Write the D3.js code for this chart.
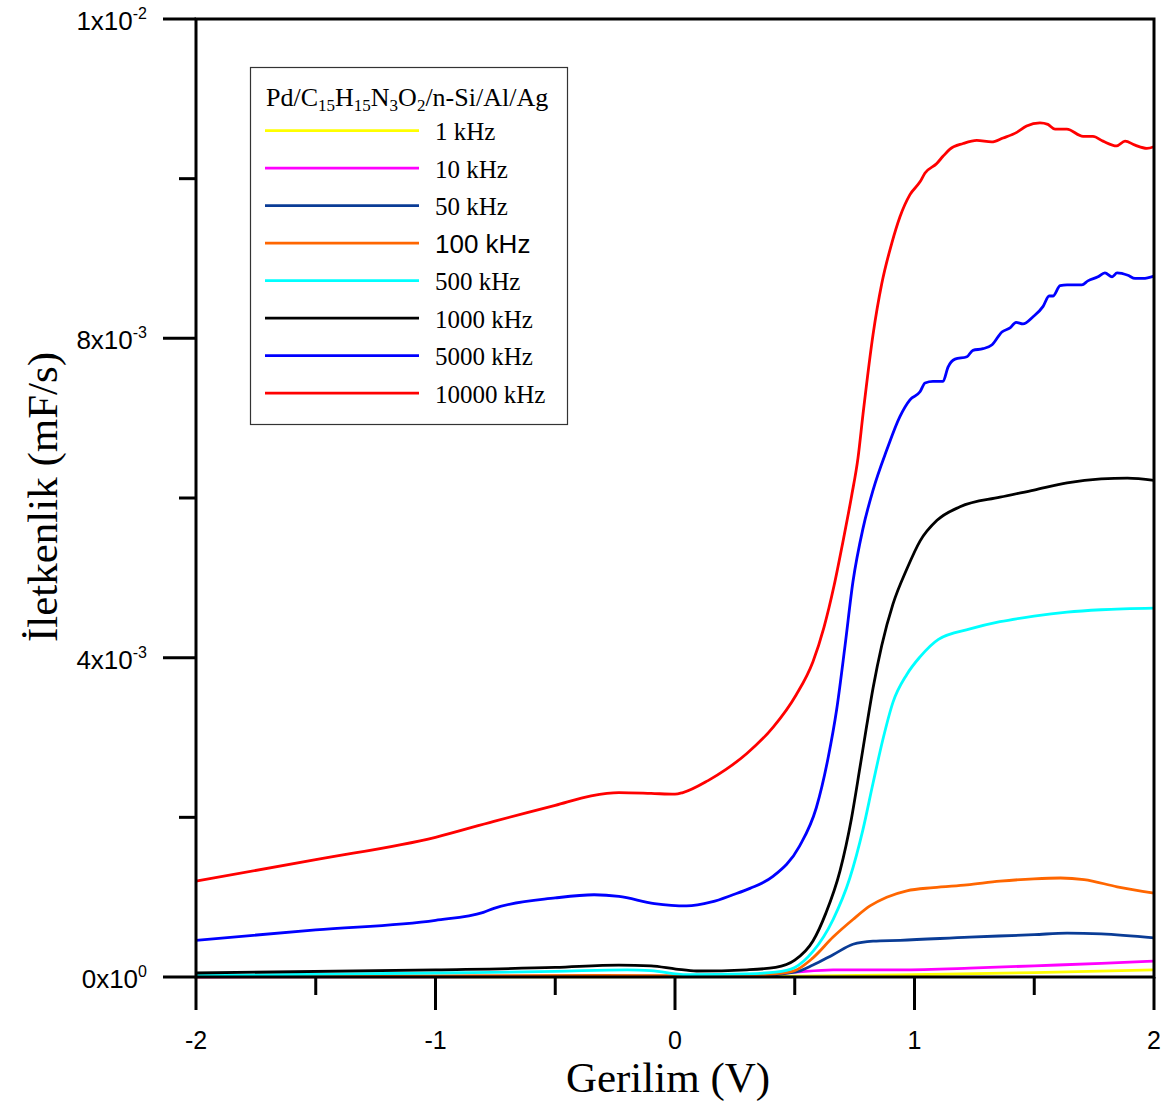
<!DOCTYPE html>
<html lang="tr">
<head>
<meta charset="UTF-8">
<title>Gerilim - İletkenlik</title>
<script src="https://cdn.jsdelivr.net/npm/d3@7"></script>
<style>
  body { margin: 0; background: #fff; }
</style>
</head>
<body>
<div id="chart"></div>
<script>
// values: [voltage (V), conductance in 1e-3 mF/s]
const f1k = [[-2, 0], [0.3, 0.005], [0.5, 0.01], [0.94, 0.025], [1.5, 0.055], [2, 0.09]];
const f10k = [[-2, 0], [0.3, 0.01], [0.5, 0.06], [0.66, 0.09], [0.94, 0.09], [1.23, 0.11], [1.5, 0.14], [1.78, 0.17], [2, 0.20]];
const f50k = [[-2, 0.005], [0.3, 0.01], [0.5, 0.06], [0.576, 0.15], [0.66, 0.28], [0.743, 0.41], [0.827, 0.45],
  [0.94, 0.46], [1.23, 0.50], [1.5, 0.53], [1.637, 0.55], [1.78, 0.54], [2, 0.49]];
const f100k = [[-2, 0.01], [-1, 0.015], [-0.3, 0.02], [0, 0.015], [0.2, 0.01], [0.42, 0.04], [0.5, 0.08], [0.576, 0.24],
  [0.66, 0.50], [0.743, 0.72], [0.814, 0.89], [0.884, 1.00], [0.968, 1.08], [1.079, 1.12], [1.219, 1.155],
  [1.357, 1.20], [1.499, 1.23], [1.61, 1.24], [1.708, 1.22], [1.846, 1.13], [2, 1.05]];
const f500k = [[-2, 0.02], [-1, 0.05], [-0.5, 0.07], [-0.2, 0.09], [-0.1, 0.08], [0.05, 0.03], [0.3, 0.04], [0.42, 0.06],
  [0.5, 0.12], [0.576, 0.32], [0.66, 0.72], [0.73, 1.24], [0.785, 1.85], [0.827, 2.43], [0.87, 3.0], [0.91, 3.44],
  [0.968, 3.79], [1.023, 4.01], [1.10, 4.23], [1.232, 4.36], [1.357, 4.45], [1.499, 4.52], [1.637, 4.57],
  [1.779, 4.60], [2, 4.62]];
const f1000k = [[-2, 0.05], [-1, 0.09], [-0.5, 0.12], [-0.234, 0.15], [-0.1, 0.14], [0.004, 0.10], [0.09, 0.075],
  [0.3, 0.09], [0.42, 0.12], [0.5, 0.21], [0.576, 0.45], [0.63, 0.80], [0.689, 1.33], [0.737, 1.99], [0.772, 2.62],
  [0.80, 3.14], [0.827, 3.62], [0.863, 4.15], [0.91, 4.67], [0.968, 5.11], [1.023, 5.46], [1.094, 5.72],
  [1.19, 5.89], [1.357, 6.01], [1.499, 6.10], [1.637, 6.19], [1.779, 6.24], [1.889, 6.25], [2, 6.22]];
const f5000k = [[-2, 0.46], [-1.5, 0.59], [-1, 0.71], [-0.80, 0.81], [-0.756, 0.86], [-0.5, 0.99], [-0.338, 1.03],
  [-0.234, 1.01], [-0.086, 0.92], [0.048, 0.89], [0.153, 0.94], [0.242, 1.03], [0.313, 1.11], [0.409, 1.26],
  [0.52, 1.64], [0.59, 2.12], [0.639, 2.74], [0.675, 3.35], [0.71, 4.15], [0.743, 4.95], [0.785, 5.62],
  [0.827, 6.10], [0.884, 6.60], [0.939, 7.02], [0.981, 7.23], [1.023, 7.33], [1.044, 7.44], [1.077, 7.46],
  [1.119, 7.46], [1.14, 7.64], [1.169, 7.74], [1.219, 7.77], [1.244, 7.85], [1.286, 7.87], [1.324, 7.92],
  [1.365, 8.08], [1.399, 8.13], [1.424, 8.20], [1.453, 8.18], [1.495, 8.27], [1.537, 8.40], [1.562, 8.53],
  [1.578, 8.53], [1.608, 8.66], [1.637, 8.67], [1.699, 8.67], [1.724, 8.72], [1.766, 8.77], [1.795, 8.82],
  [1.825, 8.77], [1.846, 8.82], [1.891, 8.79], [1.921, 8.75], [1.954, 8.75], [2, 8.78]];
const f10000k = [[-2, 1.20], [-1.5, 1.47], [-1, 1.75], [-0.756, 1.95], [-0.5, 2.15], [-0.35, 2.27], [-0.234, 2.31],
  [-0.1, 2.30], [0, 2.29], [0.033, 2.31], [0.138, 2.46], [0.213, 2.60], [0.30, 2.80], [0.41, 3.13], [0.505, 3.53],
  [0.576, 3.95], [0.622, 4.38], [0.664, 4.90], [0.701, 5.45], [0.737, 6.02], [0.764, 6.50], [0.785, 7.05],
  [0.827, 8.05], [0.863, 8.68], [0.905, 9.19], [0.939, 9.52], [0.981, 9.80], [1.023, 9.96], [1.044, 10.07],
  [1.093, 10.19], [1.119, 10.28], [1.148, 10.37], [1.203, 10.44], [1.26, 10.48], [1.322, 10.46], [1.37, 10.51],
  [1.427, 10.58], [1.468, 10.66], [1.524, 10.70], [1.557, 10.68], [1.587, 10.62], [1.636, 10.62], [1.704, 10.53],
  [1.745, 10.53], [1.787, 10.47], [1.844, 10.41], [1.879, 10.47], [1.921, 10.42], [1.97, 10.38], [2, 10.40]];

const seriesNames = ["1 kHz", "10 kHz", "50 kHz", "100 kHz", "500 kHz", "1000 kHz", "5000 kHz", "10000 kHz"];
const seriesData = [f1k, f10k, f50k, f100k, f500k, f1000k, f5000k, f10000k];
const seriesColors = ["#ffff00", "#ff00ff", "#0a3c96", "#ff6600", "#00ffff", "#000000", "#0000ff", "#ff0000"];

const xMajor = [-2, -1, 0, 1, 2];
const xMinor = [-1.5, -0.5, 0.5, 1.5];
const yMajor = [0, 4, 8, 12];
const yMinor = [2, 6, 10];
const yTickBase = ["0x10", "4x10", "8x10", "1x10"];
const yTickExp = ["0", "-3", "-3", "-2"];

const width = 1171, height = 1108;
const plotLeft = 196, plotRight = 1154, plotTop = 19, plotBottom = 977;
const serif = "'Liberation Serif', 'Times New Roman', serif";
const sans = "'Liberation Sans', Arial, sans-serif";

const x = d3.scaleLinear().domain([-2, 2]).range([plotLeft, plotRight]);
const y = d3.scaleLinear().domain([0, 12]).range([plotBottom, plotTop]);

const svg = d3.select("#chart").append("svg")
  .attr("width", width)
  .attr("height", height);

// curves
const line = d3.line()
  .x(d => x(d[0]))
  .y(d => y(d[1]))
  .curve(d3.curveMonotoneX);

svg.append("g")
  .attr("fill", "none")
  .attr("stroke-width", 2.8)
  .attr("stroke-linejoin", "round")
  .selectAll("path")
  .data(seriesData)
  .join("path")
  .attr("stroke", (d, i) => seriesColors[i])
  .attr("d", line);

// frame
svg.append("rect")
  .attr("x", plotLeft).attr("y", plotTop)
  .attr("width", plotRight - plotLeft).attr("height", plotBottom - plotTop)
  .attr("fill", "none")
  .attr("stroke", "#000")
  .attr("stroke-width", 3);

// x axis ticks
const xAxis = svg.append("g").attr("stroke", "#000").attr("stroke-width", 3);
xAxis.selectAll(".maj").data(xMajor).join("line").attr("class", "maj")
  .attr("x1", d => x(d)).attr("x2", d => x(d))
  .attr("y1", plotBottom).attr("y2", plotBottom + 33);
xAxis.selectAll(".min").data(xMinor).join("line").attr("class", "min")
  .attr("x1", d => x(d)).attr("x2", d => x(d))
  .attr("y1", plotBottom).attr("y2", plotBottom + 18);

svg.append("g").selectAll("text").data(xMajor).join("text")
  .attr("x", d => x(d))
  .attr("y", 1049)
  .attr("text-anchor", "middle")
  .attr("font-family", sans)
  .attr("font-size", 25)
  .text(d => d);

// y axis ticks
const yAxis = svg.append("g").attr("stroke", "#000").attr("stroke-width", 3);
yAxis.selectAll(".maj").data(yMajor).join("line").attr("class", "maj")
  .attr("y1", d => y(d)).attr("y2", d => y(d))
  .attr("x1", plotLeft).attr("x2", plotLeft - 33);
yAxis.selectAll(".min").data(yMinor).join("line").attr("class", "min")
  .attr("y1", d => y(d)).attr("y2", d => y(d))
  .attr("x1", plotLeft).attr("x2", plotLeft - 17);

const yLabels = svg.append("g").selectAll("text").data(yMajor).join("text")
  .attr("x", 147)
  .attr("y", d => y(d) + 11)
  .attr("text-anchor", "end")
  .attr("font-family", sans)
  .attr("font-size", 26);
yLabels.append("tspan").text((d, i) => yTickBase[i]);
yLabels.append("tspan")
  .attr("dy", -11)
  .attr("font-size", 16)
  .text((d, i) => yTickExp[i]);

// axis titles
svg.append("text")
  .attr("x", (plotLeft + plotRight) / 2 - 7)
  .attr("y", 1092)
  .attr("text-anchor", "middle")
  .attr("font-family", serif)
  .attr("font-size", 43)
  .text("Gerilim (V)");

svg.append("text")
  .attr("transform", "translate(57,497) rotate(-90)")
  .attr("text-anchor", "middle")
  .attr("font-family", serif)
  .attr("font-size", 43)
  .text("İletkenlik (mF/s)");

// legend
const legend = svg.append("g");
legend.append("rect")
  .attr("x", 250.5).attr("y", 67.5)
  .attr("width", 317).attr("height", 357)
  .attr("fill", "#fff")
  .attr("stroke", "#333")
  .attr("stroke-width", 1.2);

const title = legend.append("text")
  .attr("x", 266).attr("y", 106)
  .attr("font-family", serif)
  .attr("font-size", 26);
[["Pd/C", 0], ["15", 1], ["H", 0], ["15", 1], ["N", 0], ["3", 1], ["O", 0], ["2", 1], ["/n-Si/Al/Ag", 0]]
  .forEach(([t, sub], i, arr) => {
    const prevSub = i > 0 ? arr[i - 1][1] : 0;
    title.append("tspan")
      .attr("dy", sub ? 5 : (prevSub ? -5 : 0))
      .attr("font-size", sub ? 17 : 26)
      .text(t);
  });

const rows = legend.selectAll(".row").data(seriesNames).join("g").attr("class", "row")
  .attr("transform", (d, i) => `translate(0,${130.7 + i * 37.5})`);
rows.append("line")
  .attr("x1", 265).attr("x2", 419)
  .attr("stroke", (d, i) => seriesColors[i])
  .attr("stroke-width", 2.8);
rows.append("text")
  .attr("x", 435).attr("y", 9.5)
  .attr("font-family", d => d === "100 kHz" ? sans : serif)
  .attr("font-size", d => d === "100 kHz" ? 26 : 25)
  .text(d => d);
</script>
</body>
</html>
